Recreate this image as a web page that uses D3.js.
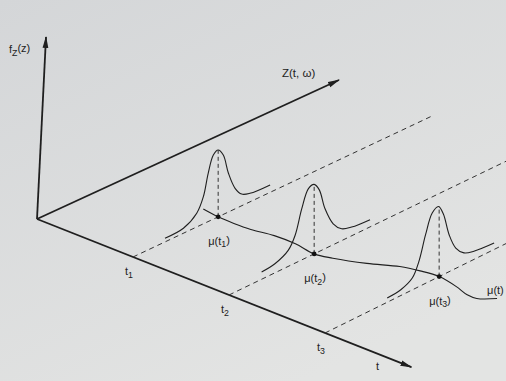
<!DOCTYPE html>
<html>
<head>
<meta charset="utf-8">
<script src="https://cdn.jsdelivr.net/npm/d3@7"></script>
<style>
  html, body { margin: 0; padding: 0; }
  svg { display: block; }
  text { font-family: "Liberation Sans", Arial, sans-serif; fill: #222; }
</style>
</head>
<body>
<div id="chart"></div>
<script>
// times on the t axis, and the mean of Z at each of them
const times = [1, 2, 3];
const timeLabels = ['1', '2', '3'];
const meanZ = [2.82, 2.82, 3.78];

// the mean curve mu(t) (t, z)
const muT = [0.82, 1.0, 1.17, 1.34, 1.55, 1.77, 2.0, 2.16, 2.42, 2.65, 2.82, 3.0, 3.22, 3.38, 3.48, 3.6];
const muZ = [2.90, 2.82, 2.80, 2.82, 2.93, 2.93, 2.82, 2.93, 3.23, 3.59, 3.72, 3.78, 3.65, 3.50, 3.50, 3.79];

// density f_Z(z) at t1, t2, t3 (z values and heights)
const dens1Z = [1.06, 1.67, 2.11, 2.33, 2.49, 2.66, 2.82, 2.99, 3.16, 3.38, 3.60, 3.87, 4.54];
const dens1F = [0.20, 0.27, 0.75, 1.49, 2.65, 3.52, 3.67, 3.26, 2.13, 1.13, 0.64, 0.47, 0.41];
const dens2Z = [1.08, 1.52, 1.96, 2.19, 2.41, 2.63, 2.82, 2.99, 3.18, 3.45, 3.73, 4.06, 4.67];
const dens2F = [0.40, 0.50, 0.88, 1.53, 2.81, 3.74, 3.82, 3.38, 2.19, 1.15, 0.65, 0.48, 0.40];
const dens3Z = [2.06, 2.51, 2.89, 3.11, 3.33, 3.55, 3.76, 3.92, 4.11, 4.33, 4.60, 4.93, 5.60];
const dens3F = [0.24, 0.32, 0.65, 1.39, 2.67, 3.68, 3.87, 3.32, 2.03, 1.12, 0.63, 0.45, 0.35];

const width = 506;
const height = 381;
const ink = '#1f1f1f';

const svg = d3.select('#chart').append('svg')
  .attr('width', width)
  .attr('height', height);

// paper background
const defs = svg.append('defs');
const grad = defs.append('linearGradient')
  .attr('id', 'paper')
  .attr('x1', 0).attr('y1', 0).attr('x2', 0.6).attr('y2', 1);
grad.append('stop').attr('offset', '0%').attr('stop-color', '#d4d6d8');
grad.append('stop').attr('offset', '100%').attr('stop-color', '#e3e4e3');
svg.append('rect').attr('width', width).attr('height', height).attr('fill', 'url(#paper)');

defs.append('marker')
  .attr('id', 'arrow')
  .attr('viewBox', '0 0 12 7')
  .attr('refX', 11).attr('refY', 3.5)
  .attr('markerWidth', 12).attr('markerHeight', 7)
  .attr('markerUnits', 'userSpaceOnUse')
  .attr('orient', 'auto')
  .append('path')
  .attr('d', 'M0,0.6 L12,3.5 L0,6.4 Z')
  .attr('fill', ink);

// oblique projection: t runs down-right, z runs up-right, f runs up
const origin = [37, 219];
const tMax = 3.9;
const zMax = 10;
const fMax = 10;
const tx = d3.scaleLinear().domain([0, tMax]).range([0, 374.4]);
const ty = d3.scaleLinear().domain([0, tMax]).range([0, 148.2]);
const zx = d3.scaleLinear().domain([0, zMax]).range([0, 302]);
const zy = d3.scaleLinear().domain([0, zMax]).range([0, -139]);
const fy = d3.scaleLinear().domain([0, fMax]).range([0, -182]);
const converge = 0.34; // the photo's perspective: Z lines steepen further along t

const project = (t, z, f) => [
  origin[0] + tx(t) + zx(z),
  origin[1] + ty(t) + zy(z) - converge * t * z + fy(f),
];

const line = d3.line();
const smooth = d3.line().curve(d3.curveCatmullRom.alpha(0.5));

// f axis (leans a little in the photo)
svg.append('line')
  .attr('x1', origin[0]).attr('y1', origin[1])
  .attr('x2', origin[0] + 9).attr('y2', origin[1] + fy(fMax))
  .attr('stroke', ink).attr('stroke-width', 1.8)
  .attr('marker-end', 'url(#arrow)');

// Z axis
svg.append('path')
  .attr('d', line([project(0, 0, 0), project(0, zMax, 0)]))
  .attr('stroke', ink).attr('stroke-width', 1.8).attr('fill', 'none')
  .attr('marker-end', 'url(#arrow)');

// t axis
svg.append('path')
  .attr('d', line([project(0, 0, 0), project(tMax, 0, 0)]))
  .attr('stroke', ink).attr('stroke-width', 1.8).attr('fill', 'none')
  .attr('marker-end', 'url(#arrow)');

// dashed lines parallel to Z at each t
svg.selectAll('.zline')
  .data(times)
  .join('path')
  .attr('class', 'zline')
  .attr('d', (t) => line([project(t, 0, 0), project(t, 9.9, 0)]))
  .attr('stroke', '#333').attr('stroke-width', 1)
  .attr('stroke-dasharray', '5,4').attr('fill', 'none');

// densities
const dens = [[dens1Z, dens1F], [dens2Z, dens2F], [dens3Z, dens3F]];
dens.forEach(([zs, fs], i) => {
  const pts = zs.map((z, j) => project(times[i], z, fs[j]));
  svg.append('path')
    .attr('d', smooth(pts))
    .attr('stroke', ink).attr('stroke-width', 1.1).attr('fill', 'none');

  const peak = d3.max(fs);
  svg.append('path')
    .attr('d', line([project(times[i], meanZ[i], 0), project(times[i], meanZ[i], peak)]))
    .attr('stroke', '#333').attr('stroke-width', 1)
    .attr('stroke-dasharray', '4,3').attr('fill', 'none');
});

// mean curve
svg.append('path')
  .attr('d', smooth(muT.map((t, i) => project(t, muZ[i], 0))))
  .attr('stroke', ink).attr('stroke-width', 1.1).attr('fill', 'none');

// mean points
svg.selectAll('.mu')
  .data(times)
  .join('circle')
  .attr('class', 'mu')
  .attr('cx', (t, i) => project(t, meanZ[i], 0)[0])
  .attr('cy', (t, i) => project(t, meanZ[i], 0)[1])
  .attr('r', 2.4)
  .attr('fill', '#111');

// labels
const sub = (sel, main, s, after) => {
  sel.append('tspan').text(main);
  sel.append('tspan').attr('font-size', '0.8em').attr('dy', '0.3em').text(s);
  if (after) sel.append('tspan').attr('dy', '-0.3em').text(after);
};

sub(svg.append('text').attr('x', 9).attr('y', 53).attr('font-size', 11), 'f', 'Z', '(z)');

svg.append('text').attr('x', 282).attr('y', 77).attr('font-size', 11.5).text('Z(t, \u03c9)');

svg.append('text').attr('x', 376).attr('y', 370).attr('font-size', 11).text('t');

times.forEach((t, i) => {
  const p = project(t, 0, 0);
  sub(svg.append('text').attr('x', p[0] - 8).attr('y', p[1] + 18).attr('font-size', 11), 't', timeLabels[i]);
  const m = project(t, meanZ[i], 0);
  sub(svg.append('text').attr('x', m[0] - 10).attr('y', m[1] + 28).attr('font-size', 11), '\u03bc(t', timeLabels[i], ')');
});

const muEnd = project(muT[muT.length - 1], muZ[muZ.length - 1], 0);
svg.append('text').attr('x', muEnd[0] - 10).attr('y', muEnd[1] - 4).attr('font-size', 11).text('\u03bc(t)');
</script>
</body>
</html>
